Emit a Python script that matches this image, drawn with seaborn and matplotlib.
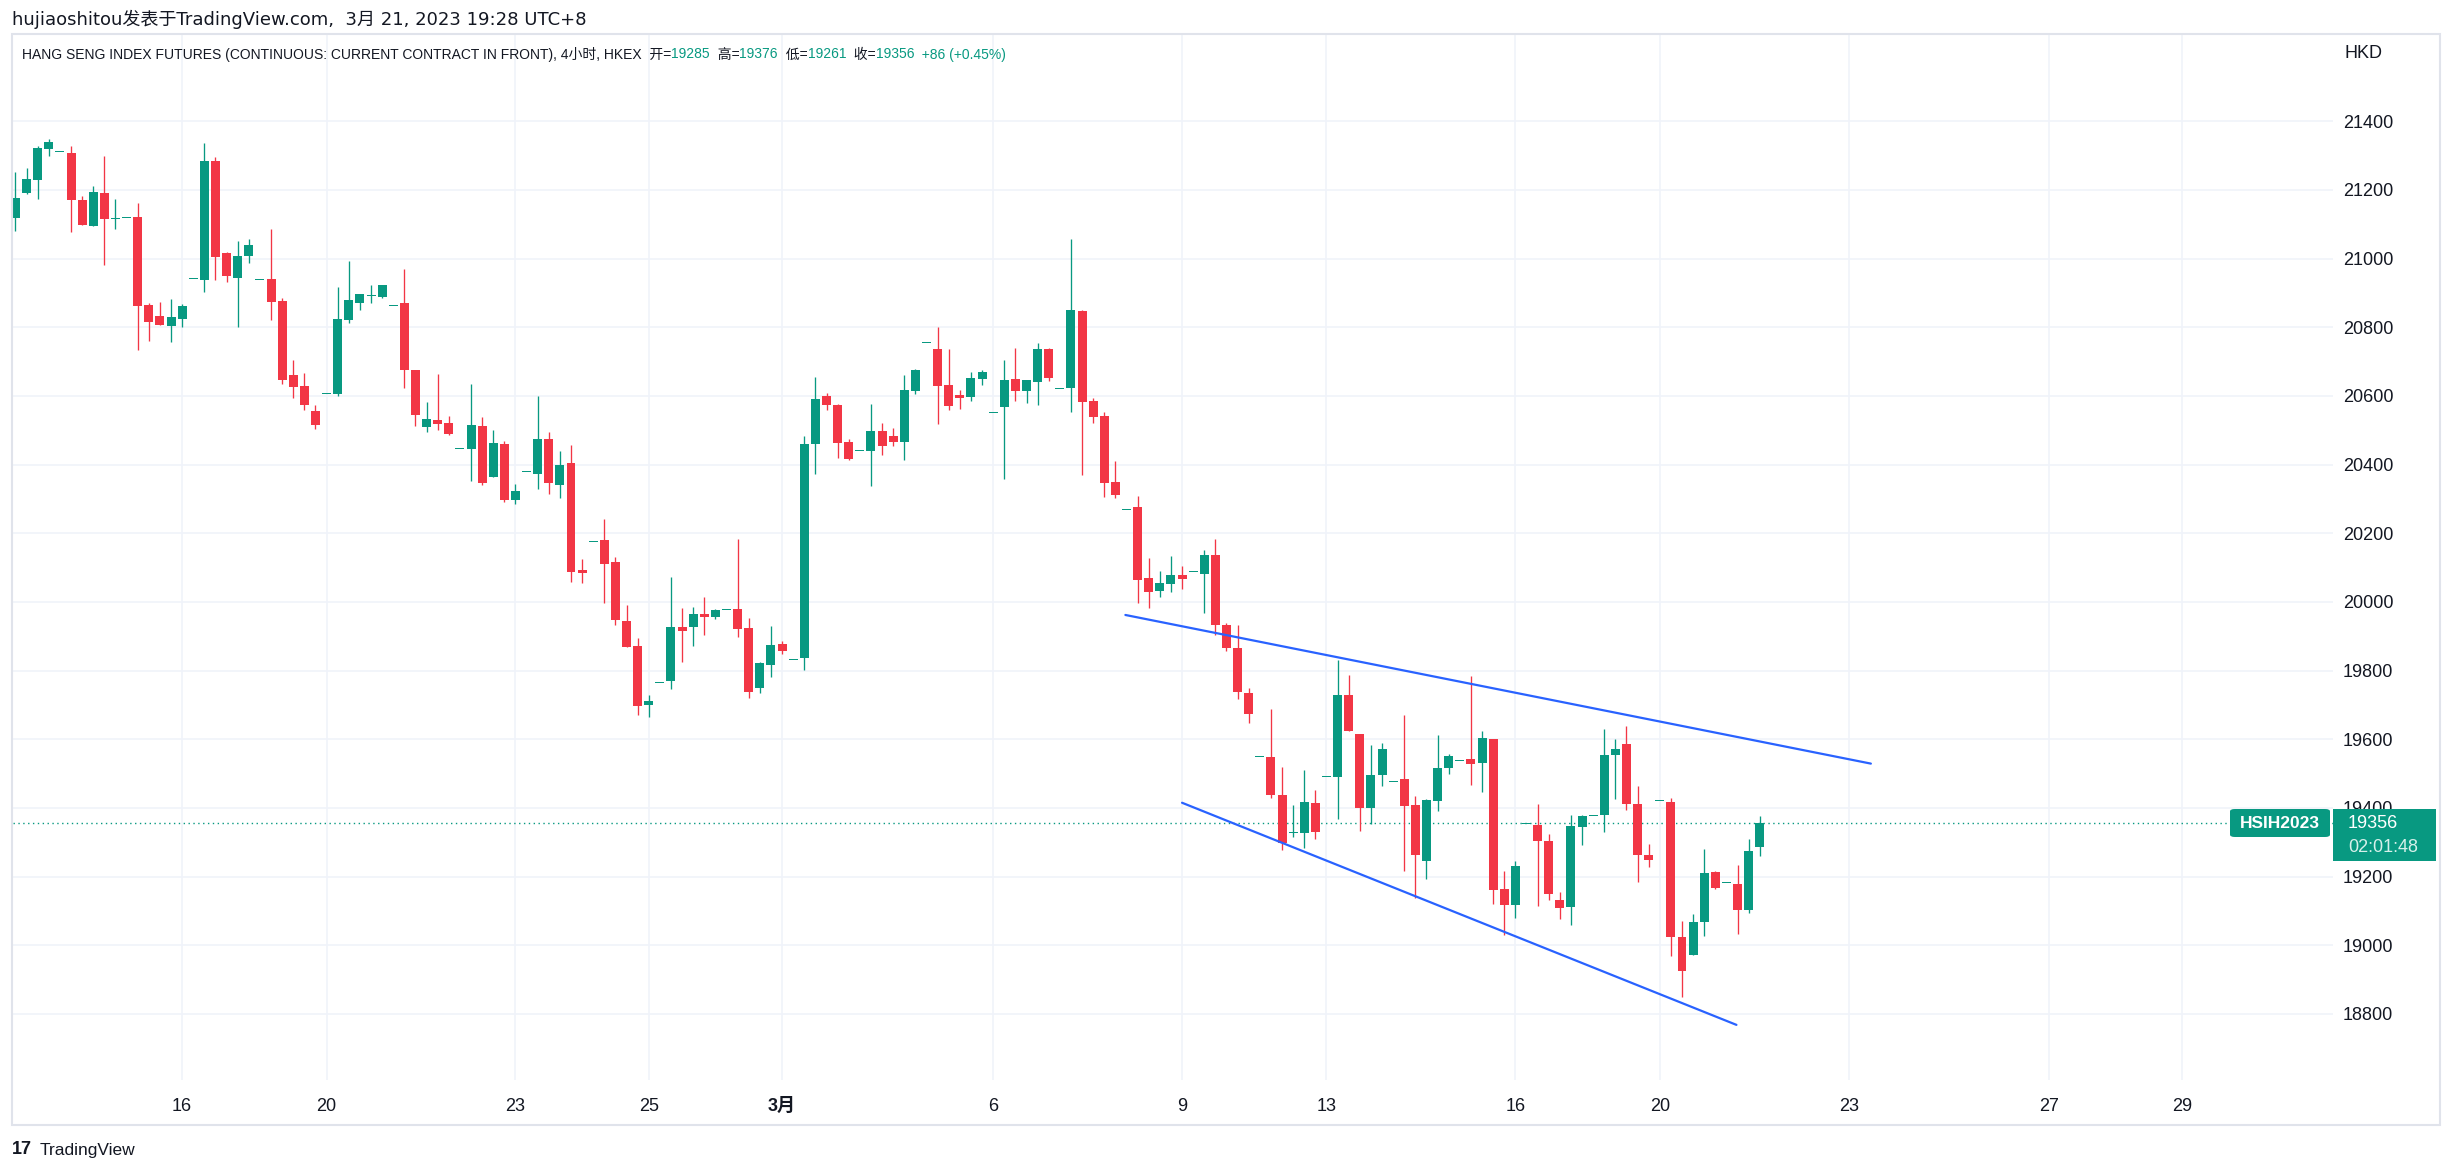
import numpy as np
import pandas as pd
import seaborn as sns
import matplotlib.pyplot as plt
from matplotlib.patches import Rectangle, FancyBboxPatch
from matplotlib import font_manager

# 4h bars, HSI futures
opens = [21117, 21191, 21229, 21319, 21310, 21308, 21171, 21096, 21191, 21116,
         21118, 21121, 20865, 20833, 20805, 20825, 20940, 20939, 21284, 21016,
         20945, 21009, 20937, 20941, 20877, 20661, 20629, 20555, 20607, 20605,
         20820, 20871, 20891, 20888, 20863, 20870, 20675, 20510, 20529, 20520,
         20444, 20444, 20513, 20364, 20460, 20298, 20378, 20373, 20475, 20341,
         20405, 20093, 20174, 20181, 20116, 19945, 19872, 19700, 19763, 19771,
         19927, 19927, 19965, 19957, 19977, 19980, 19925, 19748, 19817, 19878,
         19830, 19838, 20460, 20600, 20574, 20466, 20440, 20441, 20498, 20483,
         20467, 20615, 20755, 20736, 20631, 20602, 20597, 20650, 20549, 20568,
         20649, 20615, 20641, 20736, 20619, 20623, 20847, 20584, 20541, 20349,
         20269, 20276, 20069, 20032, 20052, 20078, 20086, 20081, 20136, 19934,
         19867, 19736, 19549, 19547, 19439, 19326, 19326, 19413, 19490, 19490,
         19730, 19614, 19399, 19497, 19476, 19485, 19407, 19245, 19419, 19516,
         19537, 19541, 19530, 19602, 19165, 19117, 19353, 19351, 19305, 19133,
         19111, 19344, 19377, 19379, 19553, 19587, 19410, 19264, 19420, 19416,
         19025, 18971, 19067, 19212, 19182, 19177, 19102, 19285]
highs = [21252, 21264, 21328, 21349, 21310, 21328, 21183, 21212, 21299, 21174,
         21118, 21162, 20871, 20874, 20882, 20868, 20940, 21337, 21296, 21019,
         21051, 21057, 20937, 21086, 20885, 20705, 20667, 20575, 20607, 20916,
         20993, 20896, 20922, 20922, 20863, 20969, 20675, 20582, 20663, 20541,
         20444, 20635, 20539, 20501, 20469, 20344, 20378, 20600, 20495, 20440,
         20457, 20125, 20174, 20242, 20131, 19991, 19895, 19729, 19763, 20073,
         19983, 19985, 20015, 19980, 19977, 20183, 19954, 19825, 19931, 19887,
         19830, 20483, 20655, 20609, 20577, 20475, 20440, 20577, 20521, 20507,
         20661, 20678, 20755, 20800, 20736, 20616, 20669, 20675, 20549, 20704,
         20739, 20646, 20753, 20739, 20619, 21056, 20850, 20593, 20552, 20410,
         20269, 20308, 20127, 20089, 20133, 20104, 20086, 20150, 20182, 19939,
         19934, 19748, 19549, 19689, 19519, 19407, 19509, 19453, 19490, 19830,
         19788, 19614, 19584, 19590, 19476, 19672, 19434, 19426, 19611, 19558,
         19537, 19783, 19625, 19602, 19215, 19244, 19353, 19410, 19325, 19156,
         19378, 19378, 19377, 19631, 19602, 19640, 19465, 19296, 19420, 19429,
         19070, 19092, 19279, 19217, 19182, 19235, 19308, 19376]
lows = [21081, 21188, 21174, 21299, 21310, 21078, 21099, 21096, 20980, 21087,
        21118, 20735, 20761, 20808, 20758, 20802, 20940, 20904, 20939, 20933,
        20802, 20988, 20937, 20822, 20636, 20595, 20560, 20505, 20607, 20600,
        20813, 20850, 20871, 20885, 20863, 20623, 20513, 20495, 20501, 20486,
        20444, 20353, 20341, 20364, 20292, 20286, 20378, 20329, 20315, 20303,
        20058, 20055, 20174, 19997, 19933, 19869, 19671, 19665, 19763, 19745,
        19826, 19873, 19905, 19949, 19977, 19899, 19721, 19736, 19780, 19847,
        19830, 19803, 20374, 20559, 20420, 20412, 20440, 20339, 20429, 20455,
        20412, 20606, 20755, 20518, 20559, 20562, 20585, 20632, 20549, 20358,
        20585, 20580, 20574, 20644, 20619, 20553, 20370, 20521, 20306, 20303,
        20269, 19997, 19982, 20015, 20029, 20038, 20086, 19968, 19905, 19856,
        19717, 19647, 19549, 19429, 19277, 19315, 19283, 19309, 19490, 19367,
        19623, 19332, 19353, 19463, 19476, 19216, 19137, 19192, 19390, 19498,
        19537, 19466, 19446, 19119, 19029, 19079, 19353, 19114, 19131, 19076,
        19058, 19291, 19377, 19330, 19427, 19393, 19185, 19227, 19420, 18968,
        18849, 18971, 19026, 19163, 19182, 19032, 19093, 19261]
closes = [21177, 21232, 21322, 21340, 21310, 21172, 21099, 21194, 21116, 21118,
          21118, 20863, 20816, 20808, 20830, 20862, 20940, 21284, 21006, 20948,
          21008, 21040, 20937, 20875, 20645, 20627, 20575, 20515, 20607, 20823,
          20879, 20896, 20893, 20922, 20863, 20676, 20545, 20532, 20518, 20489,
          20444, 20515, 20347, 20463, 20298, 20323, 20378, 20475, 20347, 20399,
          20087, 20084, 20174, 20111, 19948, 19869, 19697, 19712, 19763, 19927,
          19914, 19965, 19957, 19977, 19977, 19922, 19739, 19822, 19875, 19858,
          19830, 20460, 20591, 20574, 20464, 20417, 20440, 20498, 20455, 20467,
          20617, 20675, 20755, 20629, 20571, 20594, 20651, 20669, 20549, 20646,
          20615, 20646, 20736, 20652, 20619, 20850, 20583, 20539, 20347, 20312,
          20269, 20064, 20029, 20054, 20078, 20067, 20086, 20136, 19932, 19865,
          19737, 19673, 19549, 19437, 19299, 19330, 19416, 19329, 19490, 19730,
          19625, 19399, 19497, 19573, 19476, 19405, 19264, 19424, 19517, 19552,
          19537, 19527, 19605, 19160, 19116, 19232, 19353, 19303, 19149, 19108,
          19346, 19375, 19377, 19555, 19573, 19410, 19264, 19248, 19420, 19023,
          18924, 19069, 19209, 19166, 19182, 19102, 19273, 19356]

date_ticks = [15, 28, 45, 57, 69, 88, 105, 118, 135, 148, 165, 183, 195]
date_labels = ['16', '20', '23', '25', '3月', '6', '9', '13', '16', '20', '23', '27', '29']
price_ticks = list(range(18800, 21401, 200))

# hand-drawn channel lines (bar index, price)
upper_x = [99.9, 167.0]
upper_y = [19962, 19529]
lower_x = [105.0, 154.9]
lower_y = [19415, 18768]

last_price = 19356

UP = '#089981'
DOWN = '#F23645'
TXT = '#131722'
GRID = '#f0f3fa'

W, H = 2453, 1172


def fx(x):
    return x / W


def fy(y):
    return 1 - y / H


df = pd.DataFrame({'open': opens, 'high': highs, 'low': lows, 'close': closes})
df['i'] = np.arange(len(df))
df['up'] = df['close'] >= df['open']
df['color'] = np.where(df['up'], UP, DOWN)
df['bottom'] = df[['open', 'close']].min(axis=1)
df['body'] = (df['close'] - df['open']).abs().clip(lower=3)

sns.set_theme(style='white')
plt.rcParams['font.family'] = ['Liberation Sans', 'Noto Sans CJK SC', 'DejaVu Sans']

# narrow face for the legend line if it is there
names = {f.name for f in font_manager.fontManager.ttflist}
if 'Liberation Sans Narrow' in names:
    legend_fam, legend_size = ['Liberation Sans Narrow', 'Noto Sans CJK SC'], 12
else:
    legend_fam, legend_size = ['Liberation Sans', 'Noto Sans CJK SC'], 10

fig = plt.figure(figsize=(W / 100, H / 100), dpi=100)
fig.patch.set_facecolor('white')

left, right, top, bottom = 13, 2333, 34, 1080
ax = fig.add_axes([fx(left), fy(bottom), (right - left) / W, (bottom - top) / H])

# grid
for t in price_ticks:
    ax.axhline(t, color=GRID, lw=1.2, zorder=0)
for t in date_ticks:
    ax.axvline(t, color=GRID, lw=1.2, zorder=0)

# candles
ax.vlines(df['i'], df['low'], df['high'], colors=df['color'], lw=0.95, zorder=2)
ax.bar(df['i'], df['body'], bottom=df['bottom'], width=0.81, color=df['color'],
       linewidth=0, zorder=3)

# channel lines
sns.lineplot(x=upper_x, y=upper_y, ax=ax, color='#2962FF', lw=1.6, zorder=4)
sns.lineplot(x=lower_x, y=lower_y, ax=ax, color='#2962FF', lw=1.6, zorder=4)

# last price line
ax.axhline(last_price, color=UP, lw=1.0, ls=(0, (1, 2.5)), zorder=1)

ax.set_xlim((left - 15.5) / 11.11, (right - 15.5) / 11.11)
ax.set_ylim(21400 - (bottom - 121.3) / 0.3433, 21400 + (121.3 - top) / 0.3433)

ax.set_xticks(date_ticks)
ax.set_xticklabels(date_labels)
for lab in ax.get_xticklabels():
    if lab.get_text() == '3月':
        lab.set_fontweight('bold')
ax.yaxis.tick_right()
ax.set_yticks(price_ticks)
ax.set_yticklabels([str(p) for p in price_ticks])
ax.tick_params(axis='x', length=0, pad=13, labelsize=13, labelcolor=TXT)
ax.tick_params(axis='y', length=0, pad=7, labelsize=13, labelcolor=TXT)
for s in ax.spines.values():
    s.set_visible(False)
ax.set_xlabel('')
ax.set_ylabel('')

# chart frame
fig.add_artist(Rectangle((fx(12), fy(1125)), (2440 - 12) / W, (1125 - 34) / H,
                         transform=fig.transFigure, fill=False, ec='#e0e3eb', lw=1.5))

# header
fig.text(fx(12), fy(19), 'hujiaoshitou发表于TradingView.com,  3月 21, 2023 19:28 UTC+8',
         fontsize=13, color=TXT, va='center', ha='left',
         family=['DejaVu Sans', 'Noto Sans CJK SC'])

parts = [('HANG SENG INDEX FUTURES (CONTINUOUS: CURRENT CONTRACT IN FRONT), 4小时, HKEX  开=', TXT),
         ('19285', UP), ('  高=', TXT), ('19376', UP), ('  低=', TXT), ('19261', UP),
         ('  收=', TXT), ('19356', UP), ('  +86 (+0.45%)', UP)]
t = fig.text(fx(22), fy(54), parts[0][0], fontsize=legend_size, color=parts[0][1],
             va='center', ha='left', family=legend_fam)
for s, c in parts[1:]:
    t = ax.annotate(s, xy=(1, 0), xycoords=t, va='bottom', ha='left', fontsize=legend_size,
                    color=c, annotation_clip=False, family=legend_fam)

fig.text(fx(2345), fy(53), 'HKD', fontsize=13, color=TXT, va='center', ha='left')

# symbol + last price boxes
fig.add_artist(FancyBboxPatch((fx(2230), fy(837)), (2330 - 2230) / W, 28 / H,
                              boxstyle='round,pad=0,rounding_size=0.002',
                              transform=fig.transFigure, fc=UP, ec='none'))
fig.text(fx(2280), fy(823), 'HSIH2023', fontsize=12.5, color='white', fontweight='bold',
         va='center', ha='center')
fig.add_artist(Rectangle((fx(2333), fy(861)), (2436 - 2333) / W, 52 / H,
                         transform=fig.transFigure, fc=UP, ec='none'))
fig.text(fx(2348), fy(823), str(last_price), fontsize=13, color='white',
         va='center', ha='left')
fig.text(fx(2348), fy(847), '02:01:48', fontsize=13, color='#d6f0ea',
         va='center', ha='left')

# footer logo
fig.text(fx(12), fy(1150), '17', fontsize=13, color=TXT, fontweight='bold',
         va='center', ha='left')
fig.text(fx(40), fy(1150), 'TradingView', fontsize=12.5, color=TXT, va='center', ha='left')

fig.savefig('out.png', dpi=100, facecolor='white')
